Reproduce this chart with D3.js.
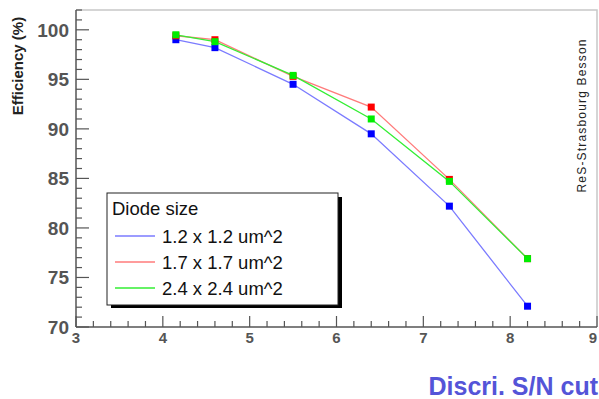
<!DOCTYPE html>
<meta charset="utf-8">
<style>
body { margin: 0; background: #fff; }
text { font-family: "Liberation Sans", Arial, sans-serif; }
.axis path, .axis line { stroke: #555; }
</style>
<body>
<svg width="599" height="399"></svg>
<script src="https://cdn.jsdelivr.net/npm/d3@7"></script>
<script>

// S/N cut values (x) and efficiency (%) for each diode size
var cuts = [4.15, 4.6, 5.5, 6.4, 7.3, 8.2];
var eff12 = [99.0, 98.2, 94.5, 89.5, 82.2, 72.1];
var eff17 = [99.4, 99.0, 95.3, 92.2, 84.9, 76.9];
var eff24 = [99.5, 98.8, 95.4, 91.0, 84.7, 76.9];
var seriesNames = ["1.2 x 1.2 um^2", "1.7 x 1.7 um^2", "2.4 x 2.4 um^2"];
var xTicks = [3, 4, 5, 6, 7, 8, 9];
var yTicks = [70, 75, 80, 85, 90, 95, 100];

var svg = d3.select("svg");

var x = d3.scaleLinear().domain([3, 9]).range([76, 597]);
var y = d3.scaleLinear().domain([70, 102]).range([327, 10]);

var series = [
  {name: seriesNames[0], vals: eff12, line: "#7b7bff", mark: "#0000ff"},
  {name: seriesNames[1], vals: eff17, line: "#ff7b7b", mark: "#ff0000"},
  {name: seriesNames[2], vals: eff24, line: "#33ee33", mark: "#00ee00"}
];

// frame (top & right, light gray like the pad border)
svg.append("path")
    .attr("d", "M" + x(3) + "," + y(102) + "H" + x(9) + "V" + y(70))
    .attr("fill", "none").attr("stroke", "#c8c8c8").attr("stroke-width", 1.5);

// y axis, ticks pointing inside
var yAxis = svg.append("g").attr("class", "axis")
    .attr("transform", "translate(" + x(3) + ",0)");
yAxis.append("line").attr("y1", y(102)).attr("y2", y(70)).attr("stroke-width", 1.5);
d3.range(70, 102.01, 1).forEach(function(v) {
  var major = v % 5 == 0;
  yAxis.append("line")
      .attr("x1", 0).attr("x2", major ? 13 : 6)
      .attr("y1", y(v)).attr("y2", y(v))
      .attr("stroke-width", 1.2);
});
yAxis.selectAll("text.tl").data(yTicks).enter().append("text")
    .attr("class", "tl")
    .attr("x", -7).attr("y", function(d) { return y(d); })
    .attr("dy", "0.36em")
    .attr("text-anchor", "end")
    .attr("font-size", 19).attr("font-weight", "bold")
    .attr("fill", "#555")
    .text(function(d) { return d; });

// x axis, ticks pointing up
var xAxis = svg.append("g").attr("class", "axis")
    .attr("transform", "translate(0," + y(70) + ")");
xAxis.append("line").attr("x1", x(3)).attr("x2", x(9)).attr("stroke-width", 1.5);
d3.range(3, 9.001, 0.2).forEach(function(v) {
  var major = Math.abs(v - Math.round(v)) < 1e-6;
  xAxis.append("line")
      .attr("x1", x(v)).attr("x2", x(v))
      .attr("y1", 0).attr("y2", major ? -11 : -6)
      .attr("stroke-width", 1.2);
});
xAxis.selectAll("text.tl").data(xTicks).enter().append("text")
    .attr("class", "tl")
    // keep the last label inside the window
    .attr("x", function(d) { return Math.min(x(d), 593); }).attr("y", 16)
    .attr("text-anchor", "middle")
    .attr("font-size", 15).attr("font-weight", "bold")
    .attr("fill", "#555")
    .text(function(d) { return d; });

// series
var lineGen = d3.line()
    .x(function(d, i) { return x(cuts[i]); })
    .y(function(d) { return y(d); });

series.forEach(function(s) {
  svg.append("path")
      .datum(s.vals)
      .attr("d", lineGen)
      .attr("fill", "none")
      .attr("stroke", s.line)
      .attr("stroke-width", 1.3);
});
series.forEach(function(s) {
  svg.selectAll(null).data(s.vals).enter().append("rect")
      .attr("x", function(d, i) { return x(cuts[i]) - 3.5; })
      .attr("y", function(d) { return y(d) - 3.5; })
      .attr("width", 7).attr("height", 7)
      .attr("fill", s.mark);
});

// legend with shadow
var lg = svg.append("g");
lg.append("rect").attr("x", 111).attr("y", 197).attr("width", 231).attr("height", 111).attr("fill", "#000");
lg.append("rect").attr("x", 107).attr("y", 193).attr("width", 231).attr("height", 112)
    .attr("fill", "#fff").attr("stroke", "#222").attr("stroke-width", 1);
lg.append("text").attr("x", 112).attr("y", 215)
    .attr("font-size", 18.5).attr("fill", "#111").text("Diode size");
series.forEach(function(s, i) {
  var ly = 236 + i * 26;
  lg.append("line").attr("x1", 115).attr("x2", 155).attr("y1", ly).attr("y2", ly)
      .attr("stroke", s.line).attr("stroke-width", 1.3);
  lg.append("text").attr("x", 162).attr("y", ly + 7)
      .attr("font-size", 18.5).attr("fill", "#111").text(s.name);
});

// axis titles
svg.append("text")
    .attr("transform", "translate(23,66) rotate(-90)")
    .attr("text-anchor", "middle")
    .attr("font-size", 15).attr("font-weight", "bold")
    .attr("fill", "#222")
    .text("Efficiency (%)");

svg.append("text")
    .attr("x", 598).attr("y", 395)
    .attr("text-anchor", "end")
    .attr("font-size", 25).attr("font-weight", "bold")
    .attr("fill", "#5454d8")
    .text("Discri. S/N cut");

svg.append("text")
    .attr("transform", "translate(586,116) rotate(-90)")
    .attr("text-anchor", "middle")
    .attr("font-size", 12).attr("fill", "#222")
    .attr("textLength", 153)
    .text("ReS-Strasbourg Besson");

</script>
</body>
